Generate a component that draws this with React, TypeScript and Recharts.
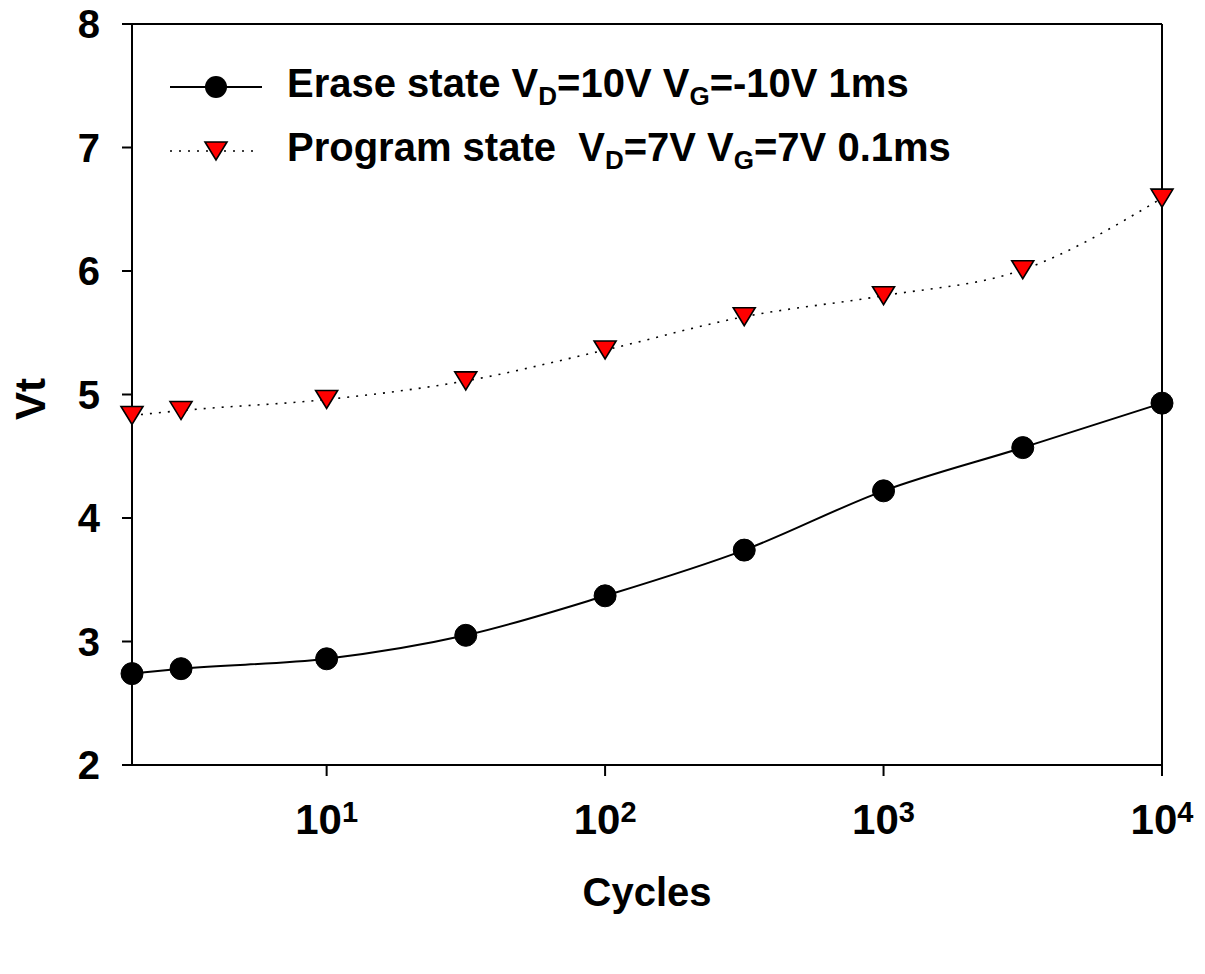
import React from "react";
import { LineChart, Line, XAxis, YAxis, ReferenceLine } from "recharts";

const cycles = [2, 3, 10, 31.6, 100, 316, 1000, 3162, 10000];
const eraseVt = [2.74, 2.78, 2.86, 3.05, 3.37, 3.74, 4.22, 4.57, 4.93];
const programVt = [4.83, 4.87, 4.96, 5.11, 5.36, 5.63, 5.8, 6.01, 6.59];
const xTicks = [10, 100, 1000, 10000];
const xTickExp = ["1", "2", "3", "4"];
const yTicks = [2, 3, 4, 5, 6, 7, 8];

const data = cycles.map((c, i) => ({ cycles: c, erase: eraseVt[i], program: programVt[i] }));

const FONT = "'Liberation Sans', Arial, Helvetica, sans-serif";
const W = 1189;
const H = 950;

const XTick = (props: any) => {
  const { x, y, payload } = props;
  const idx = xTicks.indexOf(payload.value);
  const exp = idx >= 0 ? xTickExp[idx] : "";
  return (
    <text x={x} y={y + 58} textAnchor="middle" fontFamily={FONT} fontWeight="bold" fontSize={42} fill="#000">
      <tspan>10</tspan>
      <tspan fontSize={29} dy={-12}>{exp}</tspan>
    </text>
  );
};

const YTick = (props: any) => {
  const { x, y, payload } = props;
  return (
    <text x={x} y={y + 14} textAnchor="end" fontFamily={FONT} fontWeight="bold" fontSize={40} fill="#000">
      {payload.value}
    </text>
  );
};

const CircleDot = (props: any) => {
  const { cx, cy, index } = props;
  if (cx == null || cy == null) return <g key={`c${index}`} />;
  return <circle key={`c${index}`} cx={cx} cy={cy} r={11} fill="#000" stroke="#000" strokeWidth={1} />;
};

const TriDot = (props: any) => {
  const { cx, cy, index } = props;
  if (cx == null || cy == null) return <g key={`t${index}`} />;
  const w = 11, h = 9;
  return (
    <path
      key={`t${index}`}
      d={`M${cx - w},${cy - h} L${cx + w},${cy - h} L${cx},${cy + h} Z`}
      fill="#FF0000"
      stroke="#000"
      strokeWidth={1.6}
      strokeLinejoin="miter"
    />
  );
};

export default function App() {
  return (
    <div style={{ position: "relative", top: -8, width: W, height: H }}>
      <LineChart width={W} height={H} data={data} margin={{ top: 24, right: 35, bottom: 125, left: 64 }}>
        <XAxis
          dataKey="cycles"
          type="number"
          scale="log"
          domain={[2, 10000]}
          ticks={xTicks}
          interval={0}
          height={60}
          tickSize={11}
          tickMargin={0}
          axisLine={{ stroke: "#000", strokeWidth: 2 }}
          tickLine={{ stroke: "#000", strokeWidth: 2 }}
          tick={<XTick />}
        />
        <YAxis
          type="number"
          domain={[2, 8]}
          ticks={yTicks}
          interval={0}
          width={60}
          tickSize={10}
          tickMargin={22}
          axisLine={{ stroke: "#000", strokeWidth: 2 }}
          tickLine={{ stroke: "#000", strokeWidth: 2 }}
          tick={<YTick />}
        />
        <ReferenceLine y={8} stroke="#000" strokeWidth={2} />
        <ReferenceLine x={10000} stroke="#000" strokeWidth={2} />
        <Line
          dataKey="program"
          type="monotone"
          stroke="#000"
          strokeWidth={1.6}
          strokeDasharray="2 7"
          dot={TriDot}
          activeDot={false}
          isAnimationActive={false}
        />
        <Line
          dataKey="erase"
          type="monotone"
          stroke="#000"
          strokeWidth={2}
          dot={CircleDot}
          activeDot={false}
          isAnimationActive={false}
        />
      </LineChart>
      <svg width={W} height={H} style={{ position: "absolute", left: 0, top: 0, pointerEvents: "none" }}>
        <line x1={162} y1={87} x2={254} y2={87} stroke="#000" strokeWidth={2} />
        <circle cx={208} cy={87} r={11} fill="#000" />
        <line x1={162} y1={151} x2={252} y2={151} stroke="#000" strokeWidth={1.6} strokeDasharray="2 7" />
        <path d="M197,142 L219,142 L208,160 Z" fill="#FF0000" stroke="#000" strokeWidth={1.6} />
        <text x={279} y={97} fontFamily={FONT} fontWeight="bold" fontSize={40} fill="#000">
          <tspan>Erase state V</tspan>
          <tspan fontSize={26} dy={8}>D</tspan>
          <tspan dy={-8}>=10V V</tspan>
          <tspan fontSize={26} dy={8}>G</tspan>
          <tspan dy={-8}>=-10V 1ms</tspan>
        </text>
        <text x={279} y={161} fontFamily={FONT} fontWeight="bold" fontSize={40} fill="#000" style={{ whiteSpace: "pre" }}>
          <tspan>Program state  V</tspan>
          <tspan fontSize={26} dy={8}>D</tspan>
          <tspan dy={-8}>=7V V</tspan>
          <tspan fontSize={26} dy={8}>G</tspan>
          <tspan dy={-8}>=7V 0.1ms</tspan>
        </text>
        <text x={37} y={399} transform="rotate(-90, 37, 399)" textAnchor="middle" fontFamily={FONT} fontWeight="bold" fontSize={42} fill="#000">
          Vt
        </text>
        <text x={639} y={906} textAnchor="middle" fontFamily={FONT} fontWeight="bold" fontSize={40} fill="#000">
          Cycles
        </text>
      </svg>
    </div>
  );
}
